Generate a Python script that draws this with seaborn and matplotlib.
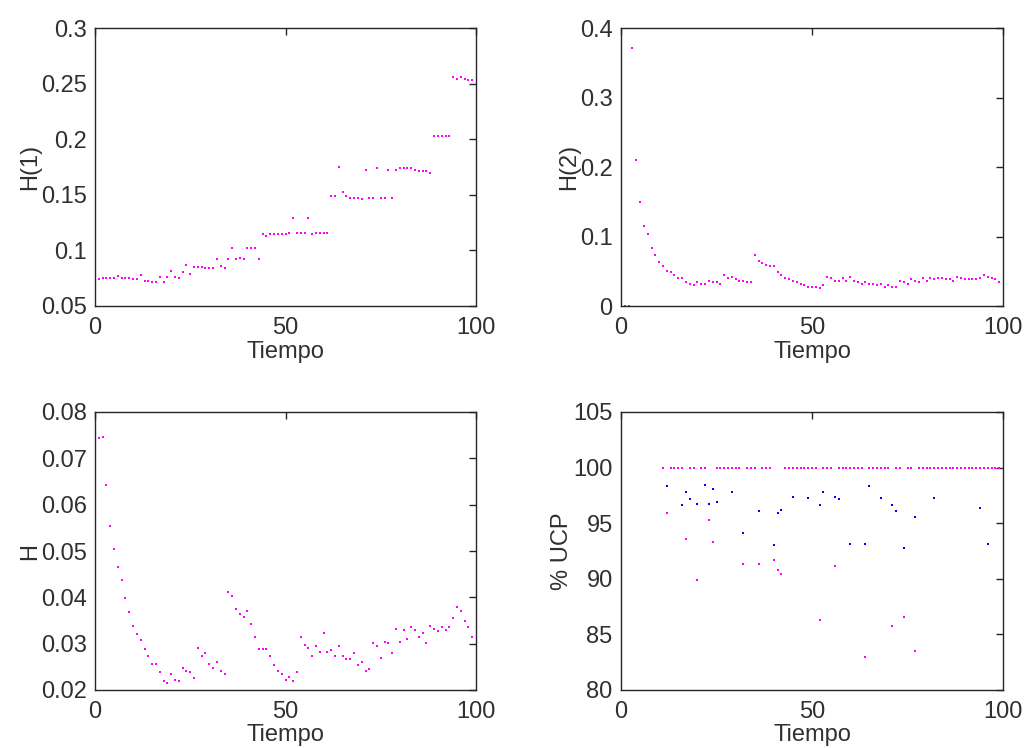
import numpy as np
import matplotlib
matplotlib.use("Agg")
import matplotlib.pyplot as plt
import seaborn as sns

# ---------------- data ----------------
tiempo = list(range(1, 100))

h1 = [0.0740, 0.0755, 0.0755, 0.0755, 0.0755, 0.0767, 0.0755, 0.0755, 0.0755, 0.0740,
      0.0740, 0.0779, 0.0725, 0.0725, 0.0713, 0.0713, 0.0764, 0.0713, 0.0764, 0.0818,
      0.0764, 0.0752, 0.0803, 0.0869, 0.0791, 0.0854, 0.0854, 0.0854, 0.0842, 0.0842,
      0.0842, 0.0920, 0.0857, 0.0842, 0.0923, 0.1025, 0.0923, 0.0935, 0.0923, 0.1025,
      0.1025, 0.1025, 0.0923, 0.1145, 0.1133, 0.1145, 0.1145, 0.1145, 0.1145, 0.1145,
      0.1160, 0.1288, 0.1160, 0.1160, 0.1160, 0.1288, 0.1145, 0.1160, 0.1160, 0.1160,
      0.1160, 0.1489, 0.1489, 0.1753, 0.1528, 0.1489, 0.1474, 0.1474, 0.1474, 0.1462,
      0.1726, 0.1474, 0.1474, 0.1738, 0.1474, 0.1474, 0.1726, 0.1474, 0.1726, 0.1738,
      0.1738, 0.1738, 0.1738, 0.1726, 0.1714, 0.1714, 0.1714, 0.1699, 0.2029, 0.2029,
      0.2029, 0.2029, 0.2029, 0.2556, 0.2544, 0.2556, 0.2544, 0.2529, 0.2529]

h2 = [0.0000, 0.0000, 0.3710, 0.2106, 0.1496, 0.1156, 0.1031, 0.0839, 0.0739, 0.0633,
      0.0571, 0.0508, 0.0484, 0.0446, 0.0403, 0.0403, 0.0341, 0.0321, 0.0297, 0.0341,
      0.0321, 0.0321, 0.0360, 0.0341, 0.0341, 0.0321, 0.0446, 0.0403, 0.0422, 0.0384,
      0.0360, 0.0360, 0.0341, 0.0341, 0.0739, 0.0652, 0.0614, 0.0590, 0.0571, 0.0571,
      0.0484, 0.0446, 0.0403, 0.0384, 0.0360, 0.0341, 0.0321, 0.0297, 0.0278, 0.0278,
      0.0278, 0.0254, 0.0297, 0.0422, 0.0403, 0.0360, 0.0360, 0.0403, 0.0360, 0.0422,
      0.0360, 0.0341, 0.0321, 0.0341, 0.0321, 0.0321, 0.0297, 0.0321, 0.0278, 0.0297,
      0.0278, 0.0278, 0.0360, 0.0341, 0.0321, 0.0384, 0.0360, 0.0341, 0.0403, 0.0360,
      0.0403, 0.0384, 0.0403, 0.0403, 0.0384, 0.0384, 0.0360, 0.0422, 0.0403, 0.0384,
      0.0384, 0.0384, 0.0384, 0.0403, 0.0446, 0.0422, 0.0403, 0.0384, 0.0341]

h = [0.0744, 0.0747, 0.0642, 0.0554, 0.0504, 0.0465, 0.0437, 0.0399, 0.0368, 0.0339,
     0.0320, 0.0308, 0.0288, 0.0273, 0.0257, 0.0257, 0.0238, 0.0219, 0.0216, 0.0235,
     0.0222, 0.0219, 0.0247, 0.0241, 0.0238, 0.0225, 0.0291, 0.0273, 0.0279, 0.0257,
     0.0247, 0.0260, 0.0241, 0.0235, 0.0412, 0.0402, 0.0374, 0.0365, 0.0358, 0.0371,
     0.0342, 0.0314, 0.0288, 0.0288, 0.0288, 0.0273, 0.0254, 0.0241, 0.0235, 0.0222,
     0.0229, 0.0219, 0.0238, 0.0314, 0.0298, 0.0291, 0.0273, 0.0295, 0.0282, 0.0323,
     0.0282, 0.0286, 0.0273, 0.0295, 0.0273, 0.0266, 0.0266, 0.0279, 0.0254, 0.0260,
     0.0241, 0.0245, 0.0301, 0.0295, 0.0270, 0.0304, 0.0301, 0.0279, 0.0332, 0.0304,
     0.0329, 0.0311, 0.0336, 0.0329, 0.0314, 0.0323, 0.0301, 0.0339, 0.0332, 0.0327,
     0.0336, 0.0329, 0.0336, 0.0355, 0.0380, 0.0371, 0.0349, 0.0336, 0.0314]

ucp_t = list(range(11, 100))
ucp_low_t = [12, 17, 20, 23, 24, 32, 36, 40, 41, 42, 52, 56, 64, 71, 74, 77]
ucp_low_v = [95.95, 93.58, 89.89, 95.29, 93.31, 91.33, 91.33, 91.72, 90.79, 90.43,
             86.29, 91.18, 83.00, 85.79, 86.56, 83.54]
ucp_mag = [ucp_low_v[ucp_low_t.index(t)] if t in ucp_low_t else 100.0 for t in ucp_t]

ucp_blue_t = [12, 16, 17, 18, 20, 22, 23, 24, 25, 29, 32, 36, 40, 41, 42, 45, 49,
              52, 53, 56, 57, 60, 64, 65, 68, 71, 72, 74, 77, 82, 94, 96]
ucp_blue_v = [98.32, 96.60, 97.78, 97.15, 96.73, 98.44, 96.73, 98.05, 96.88, 97.78,
              94.09, 96.07, 93.04, 95.95, 96.22, 97.39, 97.27,
              96.60, 97.78, 97.39, 97.15, 93.16, 93.16, 98.32, 97.27, 96.60, 96.07,
              92.77, 95.56, 97.27, 96.34, 93.16]

# ---------------- style ----------------
sns.set_style("white")
plt.rcParams['font.family'] = ['Liberation Sans', 'DejaVu Sans']
plt.rcParams['font.size'] = 17
plt.rcParams['axes.linewidth'] = 1.0
plt.rcParams['axes.edgecolor'] = '#262626'

fig = plt.figure(figsize=(10.24, 7.48), dpi=100)
W, Hh = 1024, 748

def make_ax(left, top, right, bottom):
    return fig.add_axes([left / W, 1 - bottom / Hh, (right - left) / W, (bottom - top) / Hh])

ax1 = make_ax(95, 28, 476, 306)
ax2 = make_ax(621, 28, 1003, 306)
ax3 = make_ax(95, 412, 476, 690)
ax4 = make_ax(621, 412, 1003, 690)

mag = '#ff00ff'
blue = '#0000ff'
kw = dict(marker='s', s=3, linewidth=0, legend=False)

sns.scatterplot(x=tiempo, y=h1, color=mag, ax=ax1, **kw)
sns.scatterplot(x=tiempo, y=h2, color=mag, ax=ax2, **kw)
sns.scatterplot(x=tiempo, y=h, color=mag, ax=ax3, **kw)
sns.scatterplot(x=ucp_blue_t, y=ucp_blue_v, color=blue, ax=ax4, **kw)
sns.scatterplot(x=ucp_t, y=ucp_mag, color=mag, ax=ax4, **kw)

def fmt(v):
    s = ('%.2f' % v).rstrip('0').rstrip('.')
    return s

txt = '#303030'
settings = [
    (ax1, 'H(1)', (0.05, 0.3), [0.05, 0.1, 0.15, 0.2, 0.25, 0.3]),
    (ax2, 'H(2)', (0, 0.4), [0, 0.1, 0.2, 0.3, 0.4]),
    (ax3, 'H', (0.02, 0.08), [0.02, 0.03, 0.04, 0.05, 0.06, 0.07, 0.08]),
    (ax4, '% UCP', (80, 105), [80, 85, 90, 95, 100, 105]),
]
for ax, lab, yl, yt in settings:
    ax.set_xlim(0, 100)
    ax.set_ylim(*yl)
    ax.set_xticks([0, 50, 100])
    ax.set_xticklabels(['0', '50', '100'])
    ax.set_yticks(yt)
    ax.set_yticklabels([fmt(v) for v in yt])
    ax.set_xlabel('Tiempo', fontsize=17, labelpad=1, color=txt)
    ax.set_ylabel(lab, fontsize=17, labelpad=0, color=txt)
    ax.tick_params(direction='in', length=5, width=1, top=True, right=True,
                   labelsize=17, colors='#262626', labelcolor=txt)
    ax.tick_params(axis='x', pad=8)
    ax.tick_params(axis='y', pad=6)
    for sp in ax.spines.values():
        sp.set_visible(True)
        sp.set_color('#262626')
    ax.set_facecolor('white')

fig.savefig('out.png', dpi=100, facecolor='white')
